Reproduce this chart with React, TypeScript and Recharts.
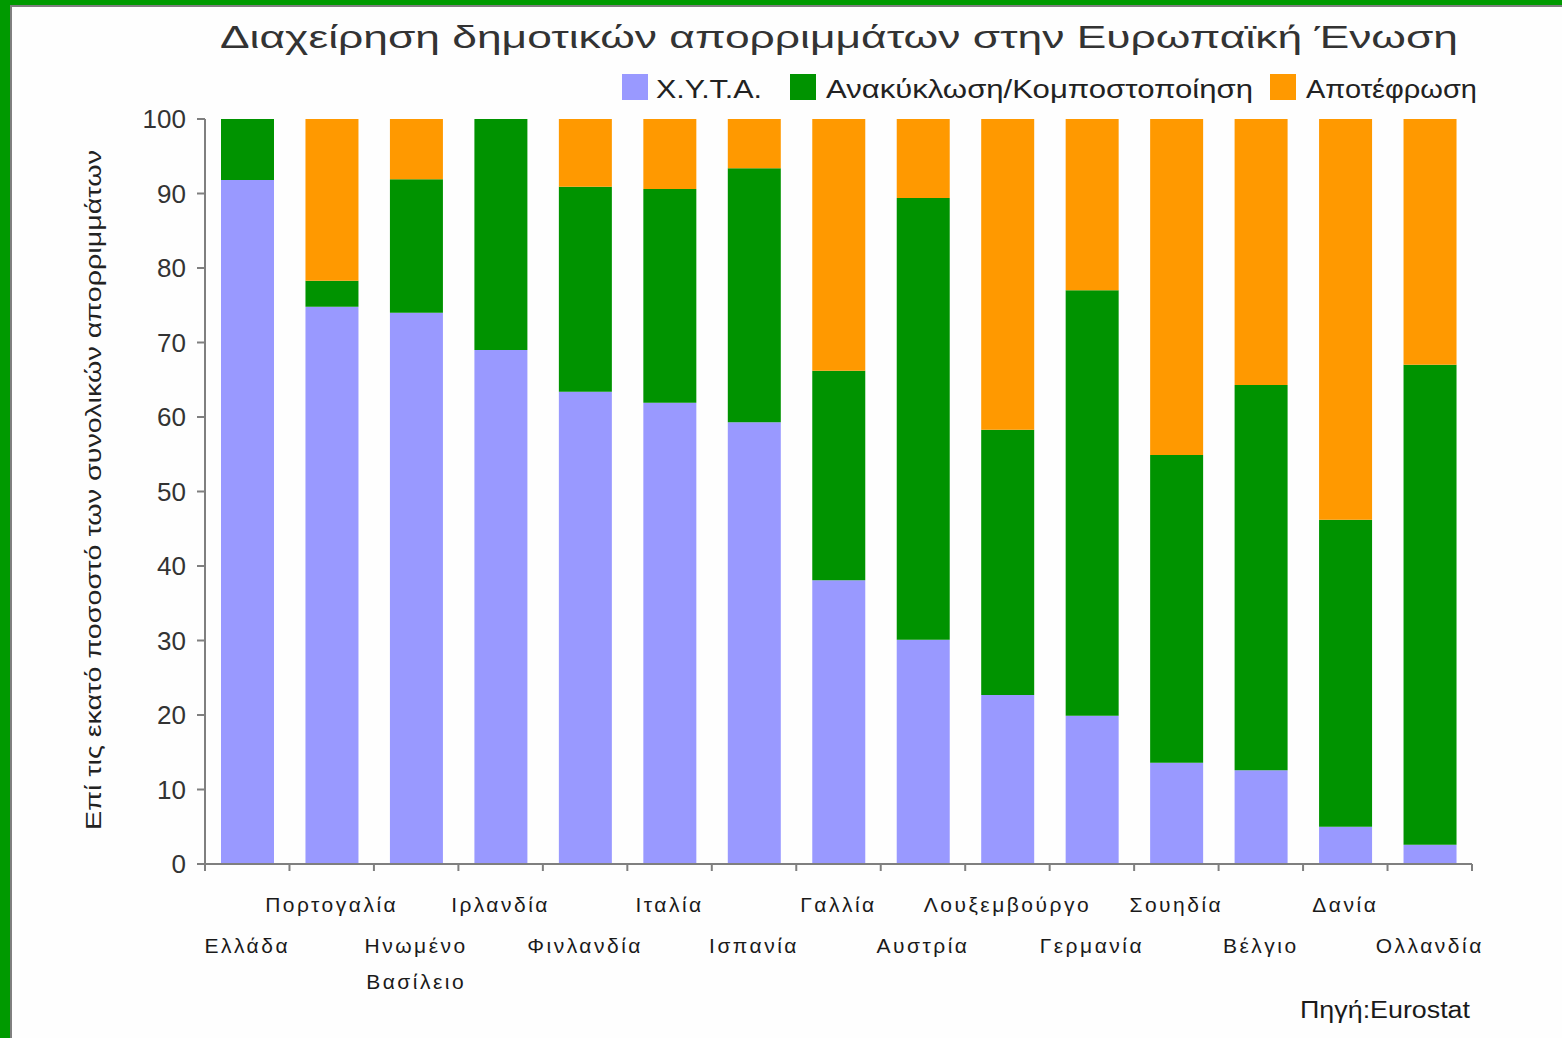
import React from 'react';
import { BarChart, Bar, XAxis, YAxis } from 'recharts';

const CATEGORIES = [
  'Ελλάδα', 'Πορτογαλία', 'Ηνωμένο\nΒασίλειο', 'Ιρλανδία', 'Φινλανδία', 'Ιταλία', 'Ισπανία',
  'Γαλλία', 'Αυστρία', 'Λουξεμβούργο', 'Γερμανία', 'Σουηδία', 'Βέλγιο', 'Δανία', 'Ολλανδία',
];
const LANDFILL = [91.8, 74.8, 74.0, 69.0, 63.4, 61.9, 59.3, 38.1, 30.1, 22.7, 19.9, 13.6, 12.6, 5.0, 2.6];
const RECYCLING = [8.2, 3.5, 17.9, 31.0, 27.5, 28.7, 34.1, 28.1, 59.3, 35.6, 57.1, 41.3, 51.7, 41.2, 64.4];
const INCINERATION = [0, 21.7, 8.1, 0, 9.1, 9.4, 6.6, 33.8, 10.6, 41.7, 23.0, 45.1, 35.7, 53.8, 33.0];
const Y_TICKS = [0, 10, 20, 30, 40, 50, 60, 70, 80, 90, 100];

const SERIES = [
  { key: 'landfill', name: 'Χ.Υ.Τ.Α.', color: '#9999FF' },
  { key: 'recycling', name: 'Ανακύκλωση/Κομποστοποίηση', color: '#009300' },
  { key: 'incineration', name: 'Αποτέφρωση', color: '#FF9900' },
];

const TITLE = 'Διαχείρηση δημοτικών απορριμμάτων στην Ευρωπαϊκή Ένωση';
const Y_LABEL = 'Επί τις εκατό ποσοστό των συνολικών απορριμμάτων';
const SOURCE = 'Πηγή:Eurostat';

const data = CATEGORIES.map((name, i) => ({
  name,
  landfill: LANDFILL[i],
  recycling: RECYCLING[i],
  incineration: INCINERATION[i],
}));

const W = 1562;
const H = 1038;
const MARGIN = { top: 119, right: 90, bottom: 0, left: 0 };
const Y_AXIS_W = 205;
const BAND = (W - MARGIN.left - MARGIN.right - Y_AXIS_W) / CATEGORIES.length;
const FONT = '"Liberation Sans", Arial, sans-serif';
const AXIS_GREY = '#7f7f7f';

// legend layout: square x, text x, text width
const LEGEND = [
  { sq: 622, tx: 656, tw: 106 },
  { sq: 790, tx: 826, tw: 427 },
  { sq: 1270, tx: 1306, tw: 171 },
];

const XTick = (props: any) => {
  const { x, y, payload } = props;
  const idx = CATEGORIES.indexOf(payload.value);
  const lines = String(payload.value).split('\n');
  const base = y + (idx % 2 === 1 ? 48 : 89);
  const last = idx === CATEGORIES.length - 1;
  return (
    <g>
      <line x1={x - BAND / 2} x2={x - BAND / 2} y1={y} y2={y + 7} stroke={AXIS_GREY} strokeWidth={2} />
      {last && <line x1={x + BAND / 2} x2={x + BAND / 2} y1={y} y2={y + 7} stroke={AXIS_GREY} strokeWidth={2} />}
      <text x={x} y={base} textAnchor="middle" fill="#1a1a1a" fontSize={21} fontFamily={FONT} letterSpacing={2.5}>
        {lines.map((l, i) => (
          <tspan key={i} x={x} dy={i === 0 ? 0 : 36}>{l}</tspan>
        ))}
      </text>
    </g>
  );
};

export default function App() {
  return (
    <div style={{ position: 'relative', width: W, height: H, background: '#fefefe', overflow: 'hidden' }}>
      <style>{'body{margin:0}'}</style>
      <BarChart width={W} height={H} data={data} margin={MARGIN}>
        <YAxis
          width={Y_AXIS_W}
          domain={[0, 100]}
          ticks={Y_TICKS}
          interval={0}
          tickSize={8}
          tickMargin={11}
          axisLine={{ stroke: AXIS_GREY, strokeWidth: 2 }}
          tickLine={{ stroke: AXIS_GREY, strokeWidth: 2 }}
          tick={{ fill: '#333', fontSize: 26, fontFamily: FONT }}
        />
        <XAxis
          dataKey="name"
          height={174}
          interval={0}
          tickSize={0}
          tickMargin={0}
          axisLine={{ stroke: AXIS_GREY, strokeWidth: 2 }}
          tickLine={false}
          tick={<XTick />}
        />
        {SERIES.map((s) => (
          <Bar key={s.key} dataKey={s.key} name={s.name} stackId="a" fill={s.color} barSize={53} isAnimationActive={false} />
        ))}
      </BarChart>

      <svg width={W} height={H} style={{ position: 'absolute', left: 0, top: 0, pointerEvents: 'none' }}>
        <text x={220} y={48} fontSize={32} fontFamily={FONT} fill="#333" textLength={1238} lengthAdjust="spacingAndGlyphs">
          {TITLE}
        </text>
        {SERIES.map((s, i) => (
          <g key={s.key}>
            <rect x={LEGEND[i].sq} y={74} width={26} height={26} fill={s.color} />
            <text x={LEGEND[i].tx} y={98} fontSize={26} fontFamily={FONT} fill="#222" textLength={LEGEND[i].tw} lengthAdjust="spacingAndGlyphs">
              {s.name}
            </text>
          </g>
        ))}
        <text
          transform="translate(101,490) rotate(-90)"
          textAnchor="middle"
          fontSize={22}
          fontFamily={FONT}
          fill="#222"
          textLength={680}
          lengthAdjust="spacingAndGlyphs"
        >
          {Y_LABEL}
        </text>
        <text x={1300} y={1018} fontSize={23} fontFamily={FONT} fill="#1a1a1a" textLength={170} lengthAdjust="spacingAndGlyphs">
          {SOURCE}
        </text>
        <rect x={0} y={0} width={W} height={5} fill="#009A00" />
        <rect x={0} y={0} width={10} height={H} fill="#009A00" />
        <rect x={10} y={5} width={W - 10} height={2} fill={AXIS_GREY} />
        <rect x={10} y={5} width={2} height={H - 5} fill={AXIS_GREY} />
      </svg>
    </div>
  );
}
